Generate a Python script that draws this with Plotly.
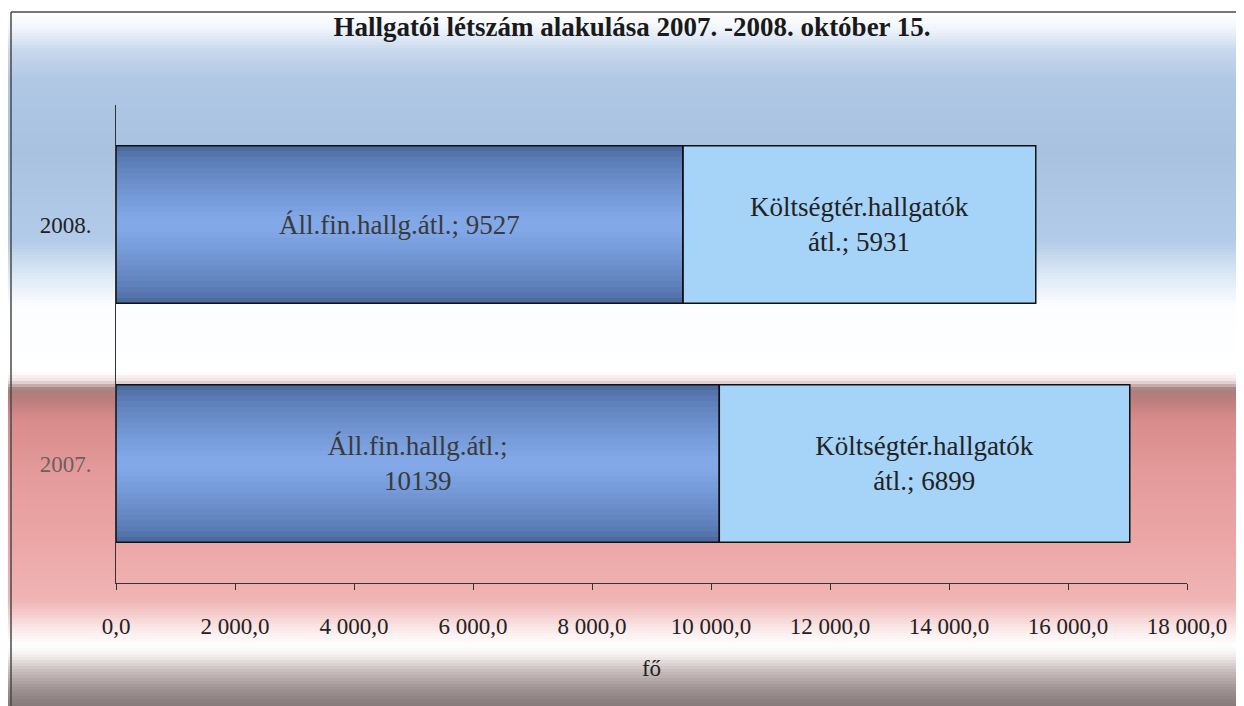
import plotly.graph_objects as go

# ---- data ----
years = ["2007.", "2008."]
state_funded = [10139, 9527]          # Áll.fin.hallg.átl.
self_funded = [6899, 5931]            # Költségtér.hallgatók átl.
state_text = ["Áll.fin.hallg.átl.;<br>10139", "Áll.fin.hallg.átl.; 9527"]
self_text = ["Költségtér.hallgatók<br>átl.; 6899", "Költségtér.hallgatók<br>átl.; 5931"]
tick_vals = [0, 2000, 4000, 6000, 8000, 10000, 12000, 14000, 16000, 18000]
tick_text = ["0,0", "2 000,0", "4 000,0", "6 000,0", "8 000,0", "10 000,0",
             "12 000,0", "14 000,0", "16 000,0", "18 000,0"]
year_text = ['<span style="color:#6e6060">2007.</span>', "2008."]

W, H = 1244, 706
OFF = 8  # page body margin
# target plot area in page pixels: x 116..1187, y 105..583
L = 116 - OFF
T = 105 - OFF
R = W - (1187 - OFF)
B = H - (583 - OFF)
PW, PH = W - L - R, H - T - B
FONT = "Liberation Serif"


def hex2rgb(h):
    h = h.lstrip("#")
    return tuple(int(h[i:i + 2], 16) for i in (0, 2, 4))


def mix(c1, c2, t):
    a, b = hex2rgb(c1), hex2rgb(c2)
    return "rgb(%d,%d,%d)" % tuple(round(a[i] + (b[i] - a[i]) * t) for i in range(3))


def px2x(px):  # page px -> paper x
    return (px - OFF - L) / PW


def px2y(py):  # page px -> paper y
    return (H - B - (py - OFF)) / PH


# background gradient stops (page pixel y, colour)
stops = [
    (0, "#ffffff"), (14, "#ffffff"), (28, "#f2f6fb"), (50, "#c8d9ed"),
    (80, "#b0c8e4"), (150, "#a8c2e0"), (240, "#b2cbe8"), (272, "#d8e6f4"),
    (305, "#fbfdff"), (372, "#ffffff"), (381, "#eee2e2"), (389, "#a88282"),
    (398, "#b87c7c"), (420, "#d88c8c"), (470, "#e49a9a"), (540, "#eca6a6"),
    (600, "#f0b4b4"), (628, "#fae6e6"), (645, "#ffffff"), (655, "#f4f0f0"),
    (672, "#c6baba"), (690, "#9c9090"), (714, "#7a6e6e"),
]


def color_at(py):
    for (y0, c0), (y1, c1) in zip(stops, stops[1:]):
        if y0 <= py <= y1:
            t = 0 if y1 == y0 else (py - y0) / (y1 - y0)
            return mix(c0, c1, t)
    return stops[-1][1]


shapes = []
step = 3
for py in range(0, H + OFF, step):
    shapes.append(dict(type="rect", xref="paper", yref="paper", layer="below",
                       x0=px2x(0), x1=px2x(W + OFF), y0=px2y(py + step + 0.5), y1=px2y(py),
                       line=dict(width=0), fillcolor=color_at(py + step / 2)))
# frame
shapes.append(dict(type="line", xref="paper", yref="paper", x0=px2x(11), x1=px2x(11),
                   y0=px2y(12), y1=px2y(H + OFF), line=dict(color="#4a4a4a", width=1.5)))
shapes.append(dict(type="line", xref="paper", yref="paper", x0=px2x(11), x1=px2x(W + OFF),
                   y0=px2y(12), y1=px2y(12), line=dict(color="#4a4a4a", width=1.5)))

fig = go.Figure()

BAR_W = 0.66
N = 14
outer, inner = "#4b6aa0", "#82a8e8"
for k in range(N):
    t = k / (N - 1)
    fig.add_trace(go.Bar(
        y=years, x=state_funded, orientation="h", width=BAR_W * (1 - 0.9 * t),
        marker=dict(color=mix(outer, inner, t ** 0.7), line=dict(width=0)),
        hoverinfo="skip", showlegend=False))

fig.add_trace(go.Bar(
    y=years, x=self_funded, base=state_funded, orientation="h", width=BAR_W,
    marker=dict(color="#a6d3f8", line=dict(color="#111111", width=1.5)),
    text=self_text, textposition="inside", insidetextanchor="middle", textangle=0,
    textfont=dict(family=FONT, size=27, color="#222222"),
    name="Költségtér.hallgatók átl.", showlegend=False))

fig.add_trace(go.Bar(
    y=years, x=state_funded, orientation="h", width=BAR_W,
    marker=dict(color="rgba(0,0,0,0)", line=dict(color="#111111", width=1.5)),
    text=state_text, textposition="inside", insidetextanchor="middle", textangle=0,
    textfont=dict(family=FONT, size=27, color="#3a3a3a"),
    name="Áll.fin.hallg.átl.", showlegend=False))

fig.update_layout(
    width=W, height=H, barmode="overlay",
    margin=dict(l=L, r=R, t=T, b=B, autoexpand=False),
    paper_bgcolor="white", plot_bgcolor="rgba(0,0,0,0)",
    font=dict(family=FONT, color="#222222"),
    title=dict(text="<b>Hallgatói létszám alakulása 2007. -2008. október 15.</b>",
               x=(632 - OFF) / W, xanchor="center", xref="container",
               y=1 - (27 - OFF) / H, yanchor="middle", yref="container",
               font=dict(family=FONT, size=27, color="#1a1a1a")),
    shapes=shapes,
)

fig.update_xaxes(
    range=[0, 18000], tickvals=tick_vals, ticktext=tick_text,
    tickfont=dict(family=FONT, size=23, color="#222222"),
    showgrid=False, zeroline=False, showline=True, linecolor="#333333", linewidth=1,
    ticks="outside", ticklen=6, tickcolor="#333333", ticklabelstandoff=16,
    title=dict(text="fő", font=dict(family=FONT, size=23, color="#222222"), standoff=22),
)
fig.update_yaxes(
    categoryorder="array", categoryarray=years, tickvals=years, ticktext=year_text,
    range=[-0.5, 1.5],
    tickfont=dict(family=FONT, size=23, color="#222222"),
    showgrid=False, zeroline=False, showline=True, linecolor="#333333", linewidth=1,
    ticks="", ticklabelstandoff=19,
)

fig.write_html("out.html")
